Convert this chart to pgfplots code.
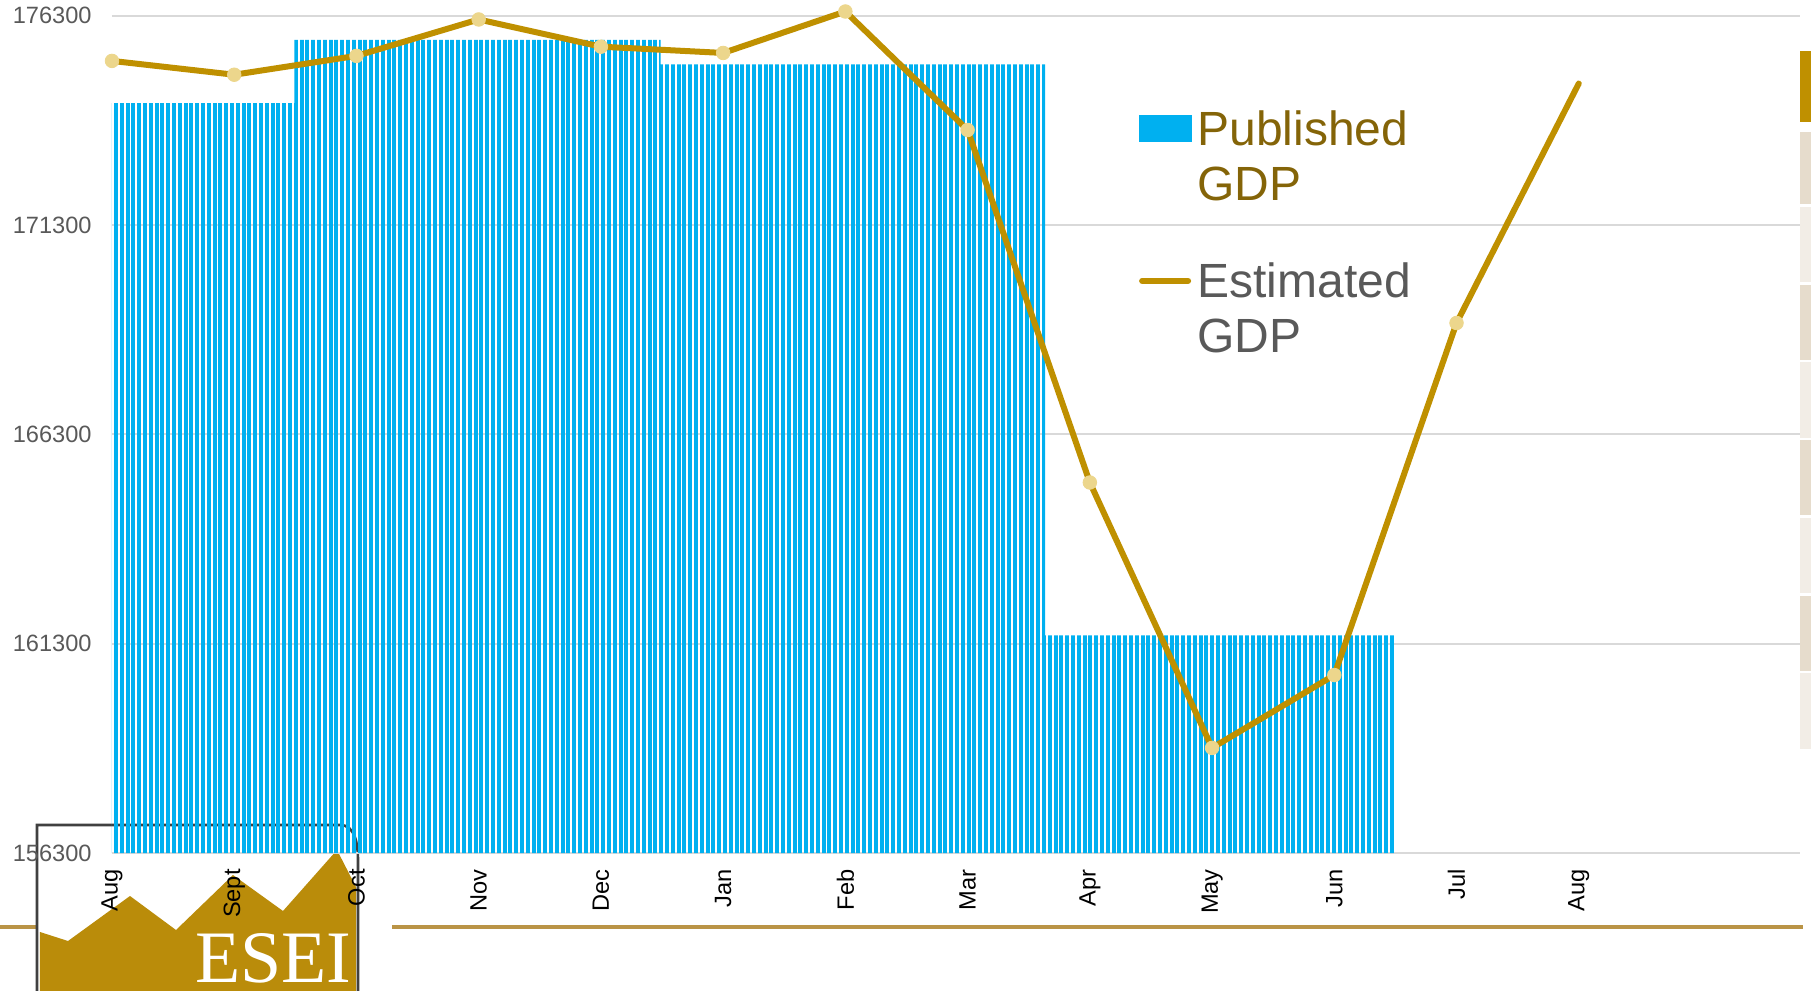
\documentclass[border=0pt]{standalone}
\usepackage{fontspec}
\setmainfont{Liberation Sans}
\newfontfamily\eseifont{Liberation Serif}
\usepackage{pgfplots}
\pgfplotsset{compat=1.18}
\usetikzlibrary{patterns.meta}
\definecolor{cyanbar}{RGB}{0,176,240}
\definecolor{goldline}{RGB}{191,144,0}
\definecolor{markfill}{RGB}{236,214,140}
\definecolor{pubtext}{RGB}{132,100,8}
\definecolor{esttext}{RGB}{89,89,89}
\definecolor{gridgray}{RGB}{217,217,217}
\definecolor{ticklab}{RGB}{89,89,89}
\definecolor{beige}{RGB}{230,220,204}
\definecolor{lightbeige}{RGB}{242,237,230}
\definecolor{framegray}{RGB}{64,64,64}
\definecolor{logogold}{RGB}{186,140,10}
\definecolor{rulegold}{RGB}{186,148,70}

\begin{document}
\begin{tikzpicture}
\useasboundingbox (-56pt,-69pt) rectangle (849.5pt,426.5pt);
% page decorations (logo, rule, side strip)
\fill[white] (-54pt,-72pt) rectangle (139pt,30.5pt);
\draw[rulegold, line width=2pt] (-56pt,-37pt) -- (-37.5pt,-37pt);
\draw[rulegold, line width=2pt] (140pt,-37pt) -- (845.5pt,-37pt);
\fill[logogold] (-36pt,-39.5pt) -- (-22pt,-44pt) -- (9pt,-21.5pt) -- (32pt,-38.5pt) -- (60.5pt,-11pt) -- (85.5pt,-29pt) -- (112.5pt,1.5pt) -- (122pt,-17pt) -- (122pt,-72pt) -- (-36pt,-72pt) -- cycle;
\draw[framegray, line width=1.3pt] (-37.5pt,-72pt) -- (-37.5pt,14pt) -- (114pt,14pt) to[out=0,in=90] (123pt,-4pt) -- (123pt,-72pt);
\node[white, font=\eseifont\fontsize{37}{37}\selectfont, anchor=base west, inner sep=0pt] at (41.5pt,-64.5pt) {ESEI};
\fill[goldline] (844pt,401pt) rectangle (849.5pt,365.5pt);
\fill[beige] (844pt,360.5pt) rectangle (849.5pt,324.5pt);
\fill[lightbeige] (844pt,323pt) rectangle (849.5pt,285.5pt);
\fill[beige] (844pt,284pt) rectangle (849.5pt,246.5pt);
\fill[lightbeige] (844pt,245.5pt) rectangle (849.5pt,207.5pt);
\fill[beige] (844pt,206.5pt) rectangle (849.5pt,169pt);
\fill[lightbeige] (844pt,167.5pt) rectangle (849.5pt,130pt);
\fill[beige] (844pt,128.5pt) rectangle (849.5pt,91pt);
\fill[lightbeige] (844pt,90pt) rectangle (849.5pt,52pt);

\begin{axis}[
  at={(0pt,0pt)}, anchor=south west,
  scale only axis, width=844pt, height=418.65pt,
  xmin=0, xmax=13.81, ymin=156300, ymax=176300,
  clip=false,
  ytick={156300,161300,166300,171300,176300},
  xtick={0,1,2,3,4,5,6,7,8,9,10,11,12},
  xticklabels={Aug,Sept,Oct,Nov,Dec,Jan,Feb,Mar,Apr,May,Jun,Jul,Aug},
  axis line style={draw=none},
  major tick length=0pt,
  ymajorgrids, major grid style={gridgray, line width=1pt},
  /pgf/number format/assume math mode=true,
  scaled y ticks=false,
  yticklabel style={font=\fontsize{11.8}{12}\selectfont, text=ticklab, inner sep=0pt, anchor=east, /pgf/number format/.cd, fixed, 1000 sep={}},
  yticklabel shift=10pt,
  xticklabel style={font=\fontsize{11.8}{12}\selectfont, text=black, rotate=90, anchor=east, inner sep=0pt},
  xticklabel shift=8pt,
  legend cell align=left,
  legend style={at={(axis description cs:0.608,0.887)}, anchor=north west, draw=none, fill=none,
    inner sep=0pt, row sep=29.5pt, column sep=3pt,
    font=\fontsize{24}{27.5}\selectfont,
    nodes={align=left, inner sep=0pt}},
]
\addlegendimage{legend image code/.code={\fill[cyanbar] (0pt,7.8pt) rectangle (26pt,20.8pt);}}
\addlegendentry[text=pubtext]{Published\\GDP}
\addlegendimage{legend image code/.code={\draw[goldline, line width=3pt, line cap=round] (1.5pt,14pt) -- (24.5pt,14pt);}}
\addlegendentry[text=esttext]{Estimated\\GDP}

% Published GDP (step bars)
\addplot[const plot mark left, draw=none, forget plot,
  pattern={Lines[angle=90, distance=2.9pt, line width=2pt]}, pattern color=cyanbar]
  coordinates {(0,174210) (1.493,175720) (4.488,175140) (7.635,161500) (10.49,161500)}
  -- (axis cs:10.49,156300) -- (axis cs:0,156300) -- cycle;

% Estimated GDP markers
\addplot[only marks, color=markfill, mark=*, mark size=3.4pt, forget plot]
  coordinates {(0,175220) (1,174890) (2,175340) (3,176210) (4,175560) (5,175410) (6,176400)
               (7,173570) (8,165150) (9,158810) (10,160550) (11,168960)};
% Estimated GDP line
\addplot[goldline, line width=3pt, line join=round, line cap=round, forget plot]
  coordinates {(0,175220) (1,174890) (2,175340) (3,176210) (4,175560) (5,175410) (6,176400)
               (7,173570) (8,165150) (9,158810) (10,160550) (11,168960) (12,174680)};
\end{axis}
\end{tikzpicture}
\end{document}
